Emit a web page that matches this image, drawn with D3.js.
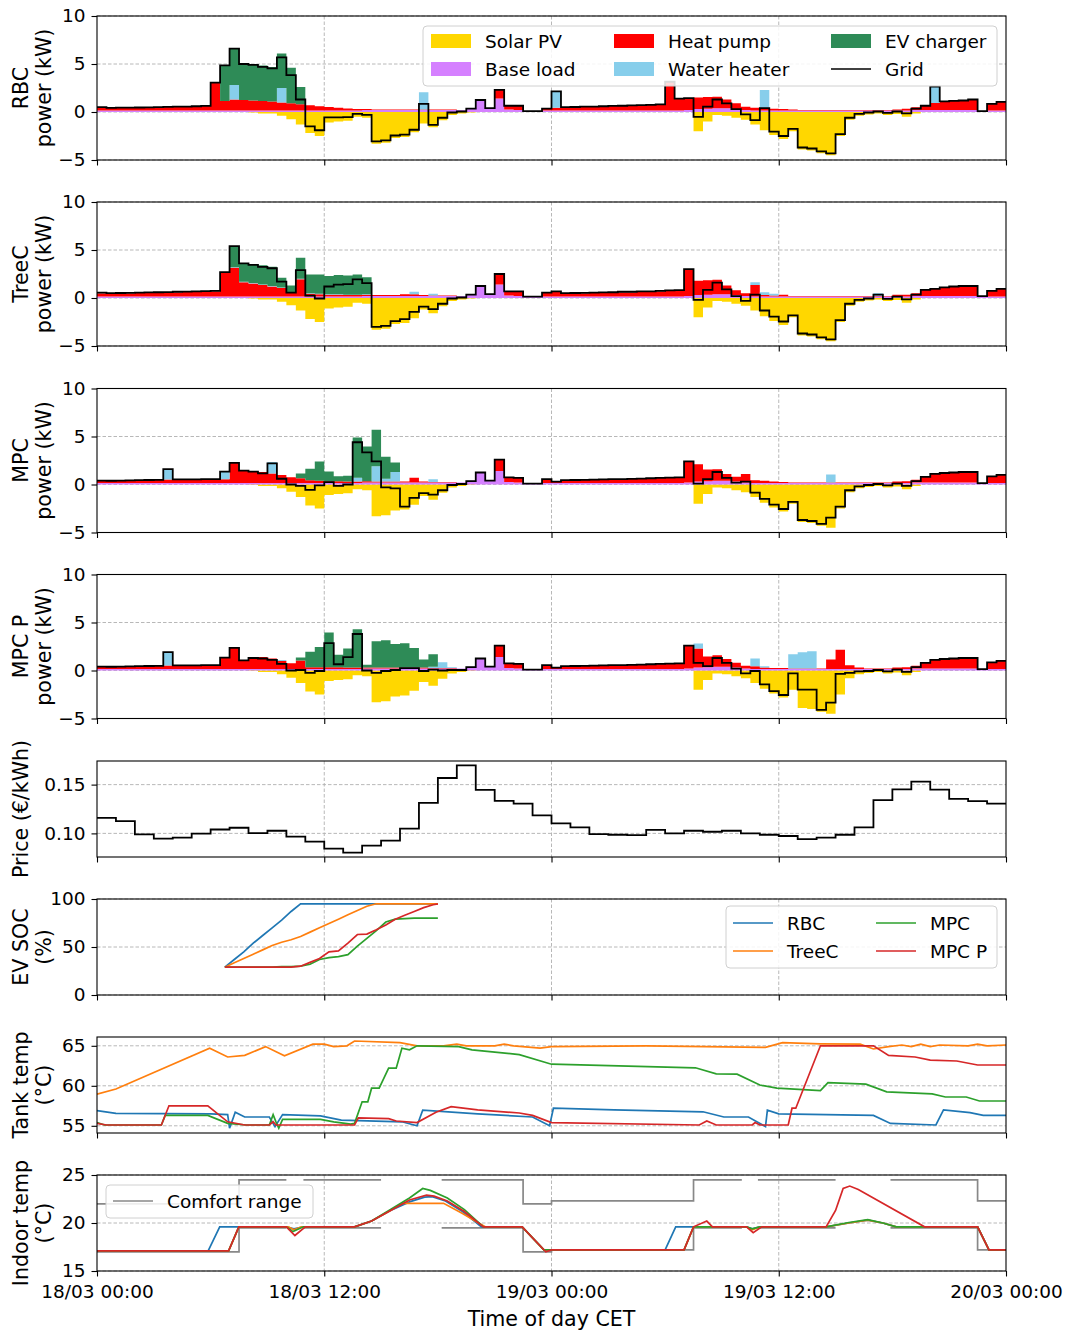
<!DOCTYPE html>
<html>
<head>
<meta charset="utf-8">
<script src="https://cdn.jsdelivr.net/npm/d3@7"></script>
<style>
  body { margin: 0; background: #fff; }
  text { font-family: "DejaVu Sans", sans-serif; }
</style>
</head>
<body>
<script>
//---->DATA (half-hour bars, index i = hour*2 from 18/03 00:00)<-----//
const solarPV = [
  0,0,0,0,0,0,0,0,0,0,0,0,
  0,0,0,0,-0.05,-0.15,-0.15,-0.4,-0.75,-1.3,-2.2,-2.5,
  -1.1,-1.0,-0.9,-0.5,-0.6,-3.3,-3.2,-2.7,-2.6,-2.1,-1.2,-1.6,
  -0.85,-0.3,-0.15,-0.05,0,0,0,0,0,0,0,0,
  0,0,0,0,0,0,0,0,0,0,0,0,
  0,0,0,-2.0,-1.0,-0.3,-0.4,-0.6,-0.8,-1.3,-1.9,-2.4,
  -2.8,-2.0,-3.9,-4.0,-4.3,-4.5,-2.5,-0.8,-0.4,-0.25,-0.15,-0.3,
  -0.2,-0.5,-0.15,0,0,0,0,0,0,0,0,0
];
const baseLoad = [
  0.15,0.15,0.15,0.15,0.15,0.15,0.15,0.15,0.15,0.15,0.15,0.15,
  0.15,0.15,0.15,0.15,0.15,0.15,0.15,0.15,0.15,0.15,0.15,0.15,
  0.15,0.15,0.15,0.15,0.2,0.2,0.2,0.2,0.2,0.2,0.2,0.2,
  0.2,0.2,0.2,0.4,1.25,0.4,1.4,0.25,0.2,0.1,0.1,0.15,
  0.15,0.15,0.15,0.15,0.15,0.15,0.15,0.15,0.15,0.15,0.15,0.15,
  0.15,0.15,0.2,0.3,0.35,0.4,0.4,0.3,0.2,0.15,0.15,0.15,
  0.15,0.15,0.15,0.15,0.15,0.15,0.15,0.15,0.15,0.15,0.15,0.15,
  0.15,0.15,0.2,0.2,0.2,0.2,0.2,0.2,0.2,0.1,0.15,0.15
];

const hpRBC = [
  0.35,0.28,0.3,0.31,0.32,0.34,0.36,0.38,0.4,0.42,0.45,0.48,
  2.9,1.0,1.15,1.1,1.05,1.0,0.95,0.85,0.75,0.65,0.55,0.45,
  0.38,0.3,0.22,0.15,0.1,0.05,0.05,0.05,0.05,0.05,0.05,0.05,
  0.05,0.05,0,0,0,0,0.9,0.4,0.45,0,0,0.2,
  0.3,0.35,0.37,0.4,0.42,0.45,0.48,0.5,0.53,0.56,0.6,0.65,
  3.0,1.25,1.25,1.2,1.2,1.2,0.9,0.6,0.35,0.3,0.25,0.2,
  0.15,0.1,0.05,0.05,0.05,0.05,0.05,0.05,0.05,0.05,0.05,0.05,
  0.1,0.2,0.3,0.45,0.75,0.9,0.95,1.0,1.1,0,0.7,0.9
];
const whRBC = [
  0,0,0,0,0,0,0,0,0,0,0,0,
  0,0,1.5,0,0,0,0,1.5,0,0,0,0,
  0,0,0,0,0,0,0,0,0,0,1.8,0,
  0,0,0,0,0,0,0,0,0,0,0,0,
  1.7,0,0,0,0,0,0,0,0,0,0,0,
  0,0,0,0,0,0,0,0,0,0,1.9,0,
  0,0,0,0,0,0,0,0,0,0,0,0,
  0,0,0,0,1.7,0,0,0,0,0,0,0
];
const evRBC = [
  0,0,0,0,0,0,0,0,0,0,0,0,
  0,3.7,3.8,3.75,3.75,3.7,3.6,3.6,3.7,1.8,0,0,
  0,0,0,0,0,0,0,0,0,0,0,0,
  0,0,0,0,0,0,0,0,0,0,0,0,
  0,0,0,0,0,0,0,0,0,0,0,0,
  0,0,0,0,0,0,0,0,0,0,0,0,
  0,0,0,0,0,0,0,0,0,0,0,0,
  0,0,0,0,0,0,0,0,0,0,0,0
];

const hpTreeC = [
  0.35,0.3,0.32,0.34,0.36,0.38,0.4,0.42,0.45,0.47,0.5,0.52,
  0.55,2.5,3.0,1.5,1.35,1.2,1.05,0.9,0.4,1.8,0.3,0.25,
  0.2,0.2,0.15,0.15,0.15,0.1,0.1,0.1,0.2,0.2,0.1,0.05,
  0.05,0.05,0,0,0,0,1.1,0.45,0.5,0.05,0.05,0.4,
  0.5,0.3,0.32,0.34,0.36,0.38,0.4,0.45,0.45,0.48,0.5,0.55,
  0.6,0.62,2.8,1.5,1.5,1.5,0.9,0.5,0.3,1.2,0.15,0.1,
  0.2,0.05,0.05,0.05,0.05,0.05,0.05,0.05,0.05,0.05,0.05,0.05,
  0.2,0.2,0.3,0.65,0.75,0.9,1.0,1.05,1.05,0.1,0.6,0.8
];
const whTreeC = [
  0.05,0.05,0.05,0.05,0.05,0.05,0.05,0.05,0.05,0.05,0.05,0.05,
  0.05,0.05,0.05,0.05,0.05,0.05,0.05,0.05,0.05,0.05,0.05,0.05,
  0.05,0.05,0.05,0.05,0.05,0,0,0,0,0.25,0,0.2,
  0,0,0,0,0,0,0,0,0,0,0,0,
  0.05,0.05,0.05,0.05,0.05,0.05,0.05,0.05,0.05,0.05,0.05,0.05,
  0.05,0.05,0,0,0,0,0,0,0,0.3,0.3,0.2,
  0,0,0,0,0,0,0,0,0,0,0.3,0,
  0,0,0,0,0,0,0,0,0,0,0,0
];
const evTreeC = [
  0,0,0,0,0,0,0,0,0,0,0,0,
  0,0,2.2,1.9,1.95,2.0,2.0,1.0,0.7,2.2,1.95,2.0,
  1.9,2.0,2.0,2.1,1.75,0,0,0,0,0,0,0,
  0,0,0,0,0,0,0,0,0,0,0,0,
  0,0,0,0,0,0,0,0,0,0,0,0,
  0,0,0,0,0,0,0,0,0,0,0,0,
  0,0,0,0,0,0,0,0,0,0,0,0,
  0,0,0,0,0,0,0,0,0,0,0,0
];

const hpMPC = [
  0.25,0.24,0.26,0.28,0.3,0.32,0.34,0.36,0.38,0.38,0.39,0.4,
  0.4,0.4,2.1,1.3,1.25,1.15,1.0,0.85,0.6,0.5,0.3,0.25,
  0.2,0.2,0.15,0.15,0.15,0.1,0.1,0.1,0.1,0.5,0.1,0.05,
  0.05,0.05,0,0,0,0,1.2,0.5,0.5,0,0,0.4,
  0.15,0.3,0.32,0.34,0.36,0.38,0.4,0.42,0.44,0.46,0.5,0.53,
  0.56,0.6,2.2,1.8,1.2,1.2,0.7,0.5,0.9,0.3,0.25,0.15,
  0.1,0.05,0.05,0.05,0.05,0.05,0.05,0.05,0.05,0.05,0.05,0.05,
  0.15,0.2,0.3,0.6,0.9,1.0,1.05,1.1,1.1,0.05,0.7,0.85
];
const whMPC = [
  0,0,0,0,0,0,0,1.1,0,0,0,0,
  0,0.8,0,0,0,0,1.2,0,0,0,0,0,
  0,0,0,0.4,0,1.6,0.3,1.0,0,0,0,0.3,
  0,0,0,0,0,0,0,0,0,0,0,0,
  0,0,0,0,0,0,0,0,0,0,0,0,
  0,0,0,0,0,0,0,0,0,0,0,0,
  0,0,0,0,0,0.85,0,0,0,0,0,0,
  0,0,0,0,0,0,0,0,0,0,0,0
];
const evMPC = [
  0,0,0,0,0,0,0,0,0,0,0,0,
  0,0,0,0,0,0,0,0,0,0.5,1.2,2.0,
  1.0,0.5,0.6,4.2,3.6,3.8,2.3,1.0,0,0,0,0,
  0,0,0,0,0,0,0,0,0,0,0,0,
  0,0,0,0,0,0,0,0,0,0,0,0,
  0,0,0,0,0,0,0,0,0,0,0,0,
  0,0,0,0,0,0,0,0,0,0,0,0,
  0,0,0,0,0,0,0,0,0,0,0,0
];

const hpMPCP = [
  0.25,0.24,0.26,0.28,0.3,0.32,0.34,0.36,0.38,0.38,0.39,0.4,
  0.4,1.2,2.2,0.9,1.2,1.25,1.1,0.85,0.6,0.9,0.2,0.2,
  0.2,0.2,0.15,0.15,0.1,0.1,0.1,0.1,0.1,0.1,0.1,0.05,
  0.05,0.05,0,0,0,0,1.2,0.5,0.5,0,0,0.4,
  0.15,0.3,0.32,0.34,0.36,0.38,0.4,0.42,0.44,0.46,0.5,0.53,
  0.56,0.6,2.4,2.0,1.1,1.2,0.8,0.5,0.3,0.3,0.15,0.1,
  0.1,0.05,0.05,0.05,0.05,1.0,2.0,0.4,0.15,0.05,0.05,0.05,
  0.15,0.2,0.3,0.6,0.9,1.0,1.05,1.1,1.1,0.05,0.7,0.85
];
const whMPCP = [
  0,0,0,0,0,0,0,1.4,0,0,0,0,
  0,0,0,0,0,0,0,0.1,0,0,0,0,
  0,0,0,0,0,0,0,0,0,0,0,0.15,
  0.6,0.1,0,0,0,0,0,0,0,0,0,0,
  0,0,0,0,0,0,0,0,0,0,0,0,
  0,0,0,0.5,0,0,0,0,0,0.8,0.15,0,
  0,1.5,1.7,1.8,0,0,0,0,0,0,0,0,
  0,0,0,0,0,0,0,0,0,0,0,0
];
const evMPCP = [
  0,0,0,0,0,0,0,0,0,0,0,0,
  0,0,0,0,0,0,0,0,0,0.3,1.6,2.1,
  3.6,1.3,2.0,4.0,0.3,2.75,2.85,2.45,2.55,2.05,0.85,1.3,
  0,0,0,0,0,0,0,0,0,0,0,0,
  0,0,0,0,0,0,0,0,0,0,0,0,
  0,0,0,0,0,0,0,0,0,0,0,0,
  0,0,0,0,0,0,0,0,0,0,0,0,
  0,0,0,0,0,0,0,0,0,0,0,0
];

// hourly day-ahead price (EUR/kWh)
const priceHourly = [
  0.116,0.1126,0.099,0.0946,0.0956,0.0997,0.104,0.1058,0.1003,0.1027,0.0966,0.0915,
  0.0844,0.0803,0.0874,0.0925,0.1048,0.1313,0.1568,0.1697,0.1446,0.1333,0.1306,0.1184,
  0.1102,0.1061,0.0993,0.0986,0.0983,0.1037,0.100,0.1027,0.1017,0.1027,0.100,0.0986,
  0.0973,0.0942,0.0956,0.0986,0.1061,0.134,0.1452,0.153,0.1449,0.1354,0.133,0.1306
];

// EV state of charge during the charging session
const socHours = [6.75,7.25,7.75,8.25,8.75,9.25,9.75,10.25,10.75,11.25,11.75,12.25,
  12.75,13.25,13.75,14.25,14.75,15.25,15.75,16.25,16.75,17.25,17.75,18];
const socRBC   = [29,37,45,54,62,70,78,87,95,95,95,95,95,95,95,95,95,95,95,95,95,95,95,95];
const socTreeC = [29,33.5,38,42.5,47,51.5,55,57.5,61,65.5,70,74.5,79,83.5,88,92.5,95,95,95,95,95,95,95,95];
const socMPC   = [29,29,29,29,29,29,29.5,29.5,30,32,37,39,40,42,51,59,67,76,79,79.5,80,80,80,80];
const socMPCP  = [29,29,29,29,29,29,29,29,30,34,38,45,46,54,63,63.5,68,73,79,83,87,91,94,95];

// tank temperature [hour, degC]
const tankRBC = [[0,56.9],[1,56.55],[6,56.5],[6.9,56.4],[7.0,54.7],[7.3,56.7],[7.8,56.1],[9.1,56.1],[9.4,54.9],[9.8,56.4],[11.8,56.25],[12.9,55.7],[16.1,55.5],[16.9,55.0],[17.2,56.95],[20.1,56.5],[23,56.1],[23.9,55.0],[24.1,57.2],[27.3,57.0],[32,56.75],[33.1,56.1],[34.4,56.1],[35.3,54.9],[35.4,56.95],[36,56.5],[41,56.3],[41.9,55.3],[44.3,55.1],[44.7,57.0],[46.1,56.65],[46.8,56.3],[48,56.3]];
const tankTreeC = [[0,58.95],[1,59.6],[5.95,64.7],[6.9,63.6],[7.8,63.8],[8.9,64.9],[9.9,63.75],[11.4,65.2],[12,65.2],[12.5,64.9],[13.2,65.0],[13.6,65.6],[16,65.4],[16.9,65.0],[18.3,65.0],[19,65.2],[19.5,65.0],[21,65.0],[21.5,65.2],[22,65.0],[23.4,64.7],[24,64.9],[29,65.0],[35.3,64.8],[36.2,65.4],[38.2,65.25],[40.3,65.2],[41,64.6],[41.8,64.9],[42.5,65.1],[43,64.9],[43.5,65.2],[44,64.9],[44.5,65.1],[46,65.0],[46.5,65.2],[47,65.0],[48,65.1]];
const tankMPC = [[0,55.4],[0.4,55.1],[3.4,55.1],[3.6,56.3],[5.85,56.3],[6.9,55.3],[7.9,55.1],[9.1,55.1],[9.3,56.4],[9.45,55.5],[9.6,54.7],[9.8,55.8],[11.8,55.8],[12.5,55.5],[13.4,55.2],[13.6,55.3],[14.0,58.0],[14.3,58.0],[14.5,59.7],[14.9,59.7],[15.4,62.2],[15.8,62.2],[16.1,64.7],[16.5,64.5],[16.9,65.0],[19.1,64.9],[19.8,64.5],[22.3,63.9],[24,62.7],[31.6,62.25],[32.7,61.5],[33.8,61.45],[35,60.1],[35.9,59.7],[38.2,59.4],[38.6,60.4],[40.6,60.2],[41.7,59.25],[44.1,59.0],[44.8,58.6],[45.9,58.6],[46.6,58.1],[48,58.1]];
const tankMPCP = [[0,55.3],[0.5,55.1],[3.4,55.1],[3.8,57.5],[5.85,57.5],[6.9,55.5],[7.8,55.1],[9.1,55.1],[9.3,55.5],[9.45,55.1],[13.6,55.1],[13.8,56.0],[15.4,55.9],[15.8,55.6],[16.9,55.4],[17.9,56.7],[18.7,57.4],[20.1,57.0],[22.3,56.6],[23,56.3],[24,55.4],[31.8,55.1],[32.2,55.6],[32.7,55.1],[34.6,55.1],[34.75,55.4],[35.0,55.1],[36.5,55.1],[36.7,57.2],[36.9,57.2],[38.2,65.0],[41,65.0],[41.8,63.8],[43.2,63.6],[44,63.2],[45.4,63.1],[46.5,62.6],[48,62.6]];

// indoor temperature [hour, degC]
const indoorRBC = [[0,17.1],[5.87,17.1],[6.48,19.6],[10.0,19.6],[10.4,19.4],[10.9,19.6],[13.6,19.6],[14.5,20.2],[15.5,21.3],[16.5,22.2],[17.3,22.7],[17.7,22.75],[18.4,22.3],[19.3,21.2],[20.3,19.6],[22.45,19.6],[23.6,17.2],[30.0,17.2],[30.56,19.6],[34.3,19.6],[34.6,19.4],[35,19.6],[38.5,19.6],[39.7,20.0],[40.7,20.3],[41.5,20.0],[42.2,19.6],[46.5,19.6],[47.1,17.2],[48,17.2]];
const indoorTreeC = [[0,17.1],[6.95,17.1],[7.49,19.6],[10.1,19.6],[10.4,19.3],[10.8,19.6],[13.6,19.6],[14.5,20.2],[15.5,21.3],[16.1,22.05],[18.3,22.05],[19.3,21.0],[20.5,19.6],[22.45,19.6],[23.6,17.2],[31.0,17.2],[31.5,19.6],[34.3,19.6],[34.6,19.3],[35,19.6],[38.5,19.6],[39.7,20.0],[40.7,20.3],[41.5,20.0],[42.2,19.6],[46.5,19.6],[47.1,17.2],[48,17.2]];
const indoorMPC = [[0,17.1],[6.95,17.1],[7.49,19.6],[10.0,19.6],[10.35,19.1],[10.9,19.6],[13.6,19.6],[14.5,20.2],[15.5,21.4],[16.5,22.6],[17.2,23.6],[17.6,23.4],[18.5,22.6],[19.4,21.4],[20.4,19.6],[22.45,19.6],[23.6,17.2],[31.0,17.2],[31.5,19.6],[34.3,19.6],[34.6,19.4],[35,19.6],[38.5,19.6],[39.7,20.05],[40.7,20.35],[41.5,20.0],[42.2,19.6],[46.5,19.6],[47.1,17.2],[48,17.2]];
const indoorMPCP = [[0,17.1],[6.95,17.1],[7.49,19.6],[10.0,19.6],[10.45,18.7],[11.0,19.6],[13.6,19.6],[14.5,20.2],[15.5,21.3],[16.5,22.4],[17.4,22.9],[17.8,22.8],[18.5,22.3],[19.4,21.2],[20.4,19.6],[22.45,19.6],[23.7,17.0],[24.0,17.2],[31.0,17.2],[31.5,19.6],[32.2,20.2],[32.5,19.6],[34.3,19.6],[34.65,19.0],[35.1,19.6],[38.5,19.6],[39.0,21.3],[39.4,23.6],[39.75,23.85],[40.2,23.5],[43.7,19.6],[46.5,19.6],[47.1,17.2],[48,17.2]];

// comfort range: value holds from comfortHours[k] to comfortHours[k+1]; null = no bound shown
const comfortHours = [0, 7.5, 10, 10.9, 15, 18.2, 22.5, 24, 31.5, 34.05, 34.9, 39, 41.9, 46.5, 48];
const comfortLow   = [17, 19.5, null, 19.5, null, 19.5, 17, 17.2, 19.5, null, 19.5, null, 19.5, 17.2];
const comfortHigh  = [22, 24.5, null, 24.5, null, 24.5, 22, 22.3, 24.5, null, 24.5, null, 24.5, 22.3];

const xTickHours  = [0, 12, 24, 36, 48];
const xTickLabels = ['18/03 00:00', '18/03 12:00', '19/03 00:00', '19/03 12:00', '20/03 00:00'];

//---->STYLE<-----//
const colors = {
  pv: '#ffd700', base: '#d580ff', hp: '#ff0000', wh: '#87ceeb', ev: '#2e8b57', grid: '#000000'
};
const ctrlColors = ['#1f77b4', '#ff7f0e', '#2ca02c', '#d62728'];
const FS = 18.5;     // ticks and legends
const FS_LAB = 20.6; // axis labels

const W = 1070, H = 1332;
const plotL = 97, plotR = 1006;
const panelTop = [16, 202, 388.5, 574.5, 761, 899, 1037, 1175];
const panelH = [144, 144, 144, 144, 96, 96, 96, 96];

const svg = d3.select('body').append('svg')
  .attr('width', W).attr('height', H)
  .attr('font-family', '"DejaVu Sans", sans-serif');

const x = d3.scaleLinear().domain([0, 48]).range([plotL, plotR]);

function makePanel(k, domain, yTicks, yFmt, labelLines) {
  const top = panelTop[k], h = panelH[k];
  const y = d3.scaleLinear().domain(domain).range([top + h, top]);
  const g = svg.append('g');
  const id = 'clip' + k;
  svg.append('clipPath').attr('id', id).append('rect')
    .attr('x', plotL).attr('y', top).attr('width', plotR - plotL).attr('height', h);

  // grid
  g.append('g').selectAll('line').data(yTicks).join('line')
    .attr('x1', plotL).attr('x2', plotR)
    .attr('y1', d => y(d)).attr('y2', d => y(d))
    .attr('stroke', '#b0b0b0').attr('stroke-width', 0.9).attr('stroke-dasharray', '3.5,2');
  g.append('g').selectAll('line').data(xTickHours.slice(1, -1)).join('line')
    .attr('x1', d => x(d)).attr('x2', d => x(d))
    .attr('y1', top).attr('y2', top + h)
    .attr('stroke', '#b0b0b0').attr('stroke-width', 0.9).attr('stroke-dasharray', '3.5,2');

  const plot = g.append('g').attr('clip-path', `url(#${id})`);

  labelLines.forEach((txt, j) => {
    const bx = j === 0 ? 28 : 51;
    g.append('text')
      .attr('transform', `translate(${bx},${top + h / 2}) rotate(-90)`)
      .attr('text-anchor', 'middle').attr('font-size', FS_LAB).text(txt);
  });

  return { k, g, y, plot, top, h, yTicks, yFmt };
}

function finishPanel(p, last) {
  const { g, y, top, h, yTicks, yFmt } = p;
  const ya = g.append('g').attr('transform', `translate(${plotL},0)`)
    .call(d3.axisLeft(y).tickValues(yTicks).tickFormat(yFmt).tickSize(5.5).tickPadding(6));
  const xa = g.append('g').attr('transform', `translate(0,${top + h})`)
    .call(d3.axisBottom(x).tickValues(xTickHours)
      .tickFormat((d, i) => last ? xTickLabels[i] : '').tickSize(5.5).tickPadding(8));
  [ya, xa].forEach(a => {
    a.select('.domain').remove();
    a.attr('font-size', FS).attr('font-family', '"DejaVu Sans", sans-serif');
    a.selectAll('line').attr('stroke', '#000').attr('stroke-width', 1.1);
    a.selectAll('text').attr('fill', '#000');
  });
  g.append('rect').attr('x', plotL).attr('y', top)
    .attr('width', plotR - plotL).attr('height', h)
    .attr('fill', 'none').attr('stroke', '#000').attr('stroke-width', 1.1);
}

//---->POWER PANELS<-----//
const controllers = [
  { name: 'RBC',   hp: hpRBC,   wh: whRBC,   ev: evRBC },
  { name: 'TreeC', hp: hpTreeC, wh: whTreeC, ev: evTreeC },
  { name: 'MPC',   hp: hpMPC,   wh: whMPC,   ev: evMPC },
  { name: 'MPC P', hp: hpMPCP,  wh: whMPCP,  ev: evMPCP }
];

controllers.forEach((c, k) => {
  const p = makePanel(k, [-5, 10], [-5, 0, 5, 10], d3.format('d'), [c.name, 'power (kW)']);
  // one row per half hour, plus a closing row at 48 h
  const rows = d3.range(97).map(i => {
    const j = Math.min(i, 95);
    return { t: i / 2, base: baseLoad[j], hp: c.hp[j], wh: c.wh[j], ev: c.ev[j], pv: solarPV[j] };
  });
  const stack = d3.stack().keys(['base', 'hp', 'wh', 'ev'])(rows);
  const area = d3.area().curve(d3.curveStepAfter)
    .x(d => x(d.data.t)).y0(d => p.y(d[0])).y1(d => p.y(d[1]));

  p.plot.append('path').datum(rows)
    .attr('fill', colors.pv)
    .attr('d', d3.area().curve(d3.curveStepAfter).x(d => x(d.t)).y0(p.y(0)).y1(d => p.y(d.pv)));
  p.plot.selectAll('.stk').data(stack).join('path')
    .attr('fill', s => colors[s.key]).attr('d', area);

  const gridLine = d3.line().curve(d3.curveStepAfter)
    .x(d => x(d.t)).y(d => p.y(d.base + d.hp + d.wh + d.ev + d.pv));
  p.plot.append('path').datum(rows).attr('fill', 'none')
    .attr('stroke', colors.grid).attr('stroke-width', 1.8).attr('d', gridLine);

  finishPanel(p, false);

  if (k === 0) {
    const lg = svg.append('g');
    lg.append('rect').attr('x', 423).attr('y', 26).attr('width', 574).attr('height', 60)
      .attr('rx', 4).attr('fill', '#fff').attr('fill-opacity', 0.85)
      .attr('stroke', '#d0d0d0').attr('stroke-width', 1);
    const items = [
      ['Solar PV', 'pv'], ['Base load', 'base'], ['Heat pump', 'hp'],
      ['Water heater', 'wh'], ['EV charger', 'ev'], ['Grid', 'grid']
    ];
    const colX = [431, 614, 831], rowY = [41, 69];
    items.forEach((it, n) => {
      const cx = colX[Math.floor(n / 2)], cy = rowY[n % 2];
      if (it[1] === 'grid') {
        lg.append('line').attr('x1', cx).attr('x2', cx + 40).attr('y1', cy).attr('y2', cy)
          .attr('stroke', '#000').attr('stroke-width', 1.7);
      } else {
        lg.append('rect').attr('x', cx).attr('y', cy - 7).attr('width', 40).attr('height', 14)
          .attr('fill', colors[it[1]]);
      }
      lg.append('text').attr('x', cx + 54).attr('y', cy + 6.5).attr('font-size', FS).text(it[0]);
    });
  }
});

//---->PRICE<-----//
{
  const p = makePanel(4, [0.0758, 0.1742], [0.10, 0.15], d3.format('.2f'), ['Price (€/kWh)']);
  const pts = d3.range(49).map(i => ({ t: i, v: priceHourly[Math.min(i, 47)] }));
  p.plot.append('path').datum(pts).attr('fill', 'none').attr('stroke', '#000').attr('stroke-width', 1.8)
    .attr('d', d3.line().curve(d3.curveStepAfter).x(d => x(d.t)).y(d => p.y(d.v)));
  finishPanel(p, false);
}

//---->EV SOC<-----//
{
  const p = makePanel(5, [0, 100], [0, 50, 100], d3.format('d'), ['EV SOC', '(%)']);
  const socs = [socRBC, socTreeC, socMPC, socMPCP];
  const line = d3.line().x((d, i) => x(socHours[i])).y(d => p.y(d));
  socs.forEach((s, n) => {
    p.plot.append('path').datum(s).attr('fill', 'none')
      .attr('stroke', ctrlColors[n]).attr('stroke-width', 1.7).attr('d', line);
  });
  finishPanel(p, false);
  const lg = svg.append('g');
  lg.append('rect').attr('x', 726).attr('y', 906).attr('width', 271).attr('height', 62)
    .attr('rx', 4).attr('fill', '#fff').attr('fill-opacity', 0.85)
    .attr('stroke', '#d0d0d0').attr('stroke-width', 1);
  const names = ['RBC', 'TreeC', 'MPC', 'MPC P'];
  const colX = [733, 876], rowY = [923, 951];
  names.forEach((nm, n) => {
    const cx = colX[Math.floor(n / 2)], cy = rowY[n % 2];
    lg.append('line').attr('x1', cx).attr('x2', cx + 40).attr('y1', cy).attr('y2', cy)
      .attr('stroke', ctrlColors[n]).attr('stroke-width', 1.7);
    lg.append('text').attr('x', cx + 54).attr('y', cy + 6.5).attr('font-size', FS).text(nm);
  });
}

//---->TANK TEMP<-----//
{
  const p = makePanel(6, [54.1, 66.1], [55, 60, 65], d3.format('d'), ['Tank temp', '(°C)']);
  const line = d3.line().x(d => x(d[0])).y(d => p.y(d[1]));
  [tankRBC, tankTreeC, tankMPC, tankMPCP].forEach((s, n) => {
    p.plot.append('path').datum(s).attr('fill', 'none')
      .attr('stroke', ctrlColors[n]).attr('stroke-width', 1.7).attr('d', line);
  });
  finishPanel(p, false);
}

//---->INDOOR TEMP<-----//
function comfortRuns(vals) {
  const runs = [];
  let cur = null;
  vals.forEach((v, k) => {
    if (v == null) { cur = null; return; }
    if (!cur) { cur = []; runs.push(cur); }
    cur.push([comfortHours[k], v]);
    if (k === vals.length - 1 || vals[k + 1] == null) cur.push([comfortHours[k + 1], v]);
  });
  return runs;
}

{
  const p = makePanel(7, [15, 25], [15, 20, 25], d3.format('d'), ['Indoor temp', '(°C)']);
  const step = d3.line().curve(d3.curveStepAfter).x(d => x(d[0])).y(d => p.y(d[1]));
  [comfortLow, comfortHigh].forEach(s => {
    p.plot.selectAll(null).data(comfortRuns(s)).join('path')
      .attr('fill', 'none').attr('stroke', '#888').attr('stroke-width', 1.7).attr('d', step);
  });
  const line = d3.line().x(d => x(d[0])).y(d => p.y(d[1]));
  [indoorRBC, indoorTreeC, indoorMPC, indoorMPCP].forEach((s, n) => {
    p.plot.append('path').datum(s).attr('fill', 'none')
      .attr('stroke', ctrlColors[n]).attr('stroke-width', 1.7).attr('d', line);
  });
  finishPanel(p, true);

  const lg = svg.append('g');
  lg.append('rect').attr('x', 106).attr('y', 1185).attr('width', 207).attr('height', 33)
    .attr('rx', 4).attr('fill', '#fff').attr('fill-opacity', 0.85)
    .attr('stroke', '#d0d0d0').attr('stroke-width', 1);
  lg.append('line').attr('x1', 113).attr('x2', 153).attr('y1', 1201).attr('y2', 1201)
    .attr('stroke', '#888').attr('stroke-width', 1.7);
  lg.append('text').attr('x', 167).attr('y', 1207.5).attr('font-size', FS).text('Comfort range');

  svg.append('text').attr('x', (plotL + plotR) / 2).attr('y', 1326)
    .attr('text-anchor', 'middle').attr('font-size', FS_LAB).text('Time of day CET');
}
</script>
</body>
</html>
